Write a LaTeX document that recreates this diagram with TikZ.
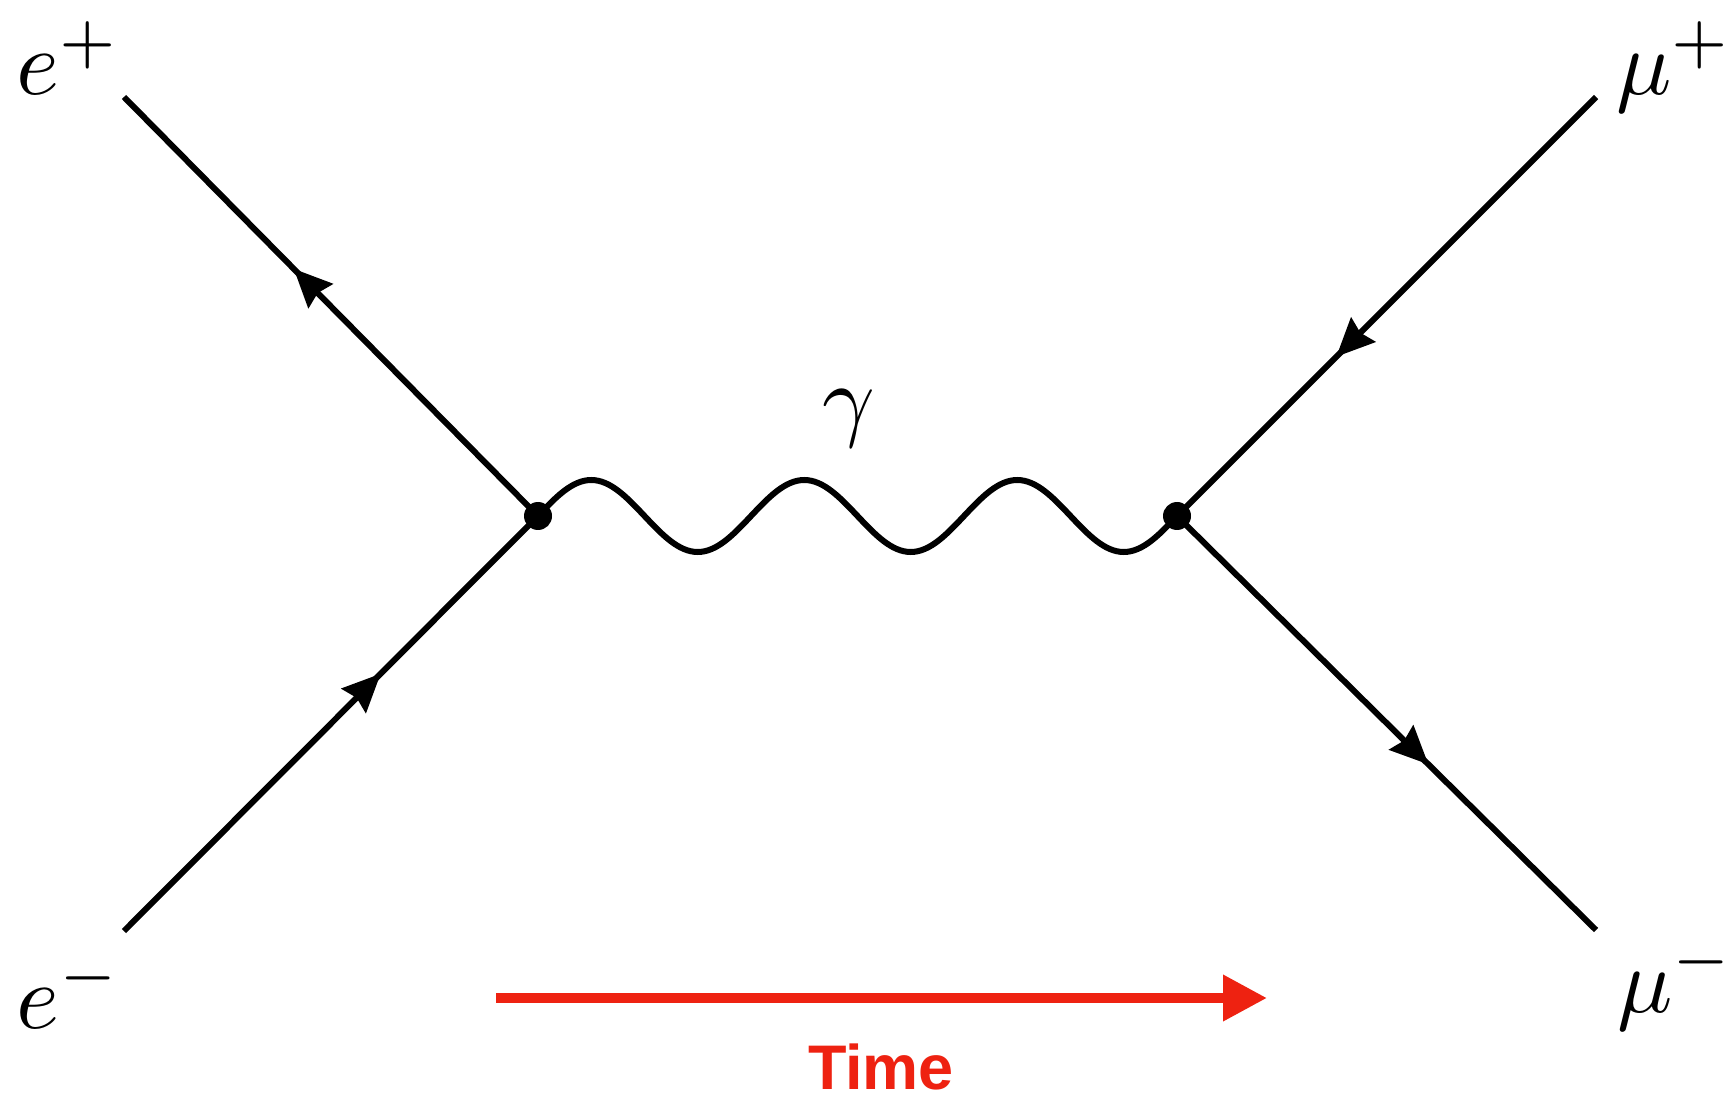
\documentclass[tikz,border=0pt]{standalone}
\usepackage{graphicx}
\usepackage{fontspec}
\newfontfamily\timefont{Liberation Sans}
\usetikzlibrary{arrows.meta,decorations.markings}
\definecolor{timered}{RGB}{238,34,17}
\newcommand{\biglab}[1]{\scalebox{4.6}{$#1$}}
\begin{document}
\begin{tikzpicture}[x=0.5pt,y=0.5pt,
  fermion/.style={line width=3pt},
  fermarrow/.style={decoration={markings,
      mark=at position #1 with {\arrow{Stealth[length=19pt,width=17pt,inset=2pt]}}},
      postaction={decorate}},
  photon/.style={line width=3pt},
  vertexdot/.style={circle, fill=black, inner sep=0pt, minimum size=14pt},
  lab/.style={inner sep=0pt},
  timearrow/.style={draw=timered, line width=5pt, -{Triangle[length=22pt,width=22pt]}},
  timelab/.style={inner sep=0pt, text=timered, font={\timefont\fontsize{31.5}{34}\selectfont\bfseries}}
]
\useasboundingbox[fill=white] (0,0) rectangle (1728,1099);

% end points and vertices
\coordinate (ep) at (124,1002);
\coordinate (em) at (124,168);
\coordinate (mp) at (1596,1002);
\coordinate (mm) at (1596,169);
\coordinate (L) at (538,583);
\coordinate (R) at (1177,583);

% fermion lines
\draw[fermion, fermarrow=0.62] (em) -- (L);
\draw[fermion, fermarrow=0.59] (L) -- (ep);
\draw[fermion, fermarrow=0.62] (mp) -- (R);
\draw[fermion, fermarrow=0.60] (R) -- (mm);

% photon
\draw[photon] (L)
  sin ++(53.25,36) cos ++(53.25,-36) sin ++(53.25,-36) cos ++(53.25,36)
  sin ++(53.25,36) cos ++(53.25,-36) sin ++(53.25,-36) cos ++(53.25,36)
  sin ++(53.25,36) cos ++(53.25,-36) sin ++(53.25,-36) cos ++(53.25,36);

% vertex dots
\node[vertexdot] (Ldot) at (L) {};
\node[vertexdot] (Rdot) at (R) {};

% labels
\node[lab, anchor=base west] (lep) at (16,1004) {\biglab{e^+}};
\node[lab, anchor=base west] (lem) at (16,71) {\biglab{e^-}};
\node[lab, anchor=base west] (lmp) at (1616,1004) {\biglab{\mu^+}};
\node[lab, anchor=base west] (lmm) at (1617,87) {\biglab{\mu^-}};
\node[lab, anchor=base] (lgam) at (849,669) {\biglab{\gamma}};

% time arrow
\coordinate (ts) at (496,101);
\coordinate (te) at (1267,101);
\draw[timearrow] (ts) -- (te);
\node[timelab, anchor=base] (time) at (881,10) {Time};
\end{tikzpicture}
\end{document}
